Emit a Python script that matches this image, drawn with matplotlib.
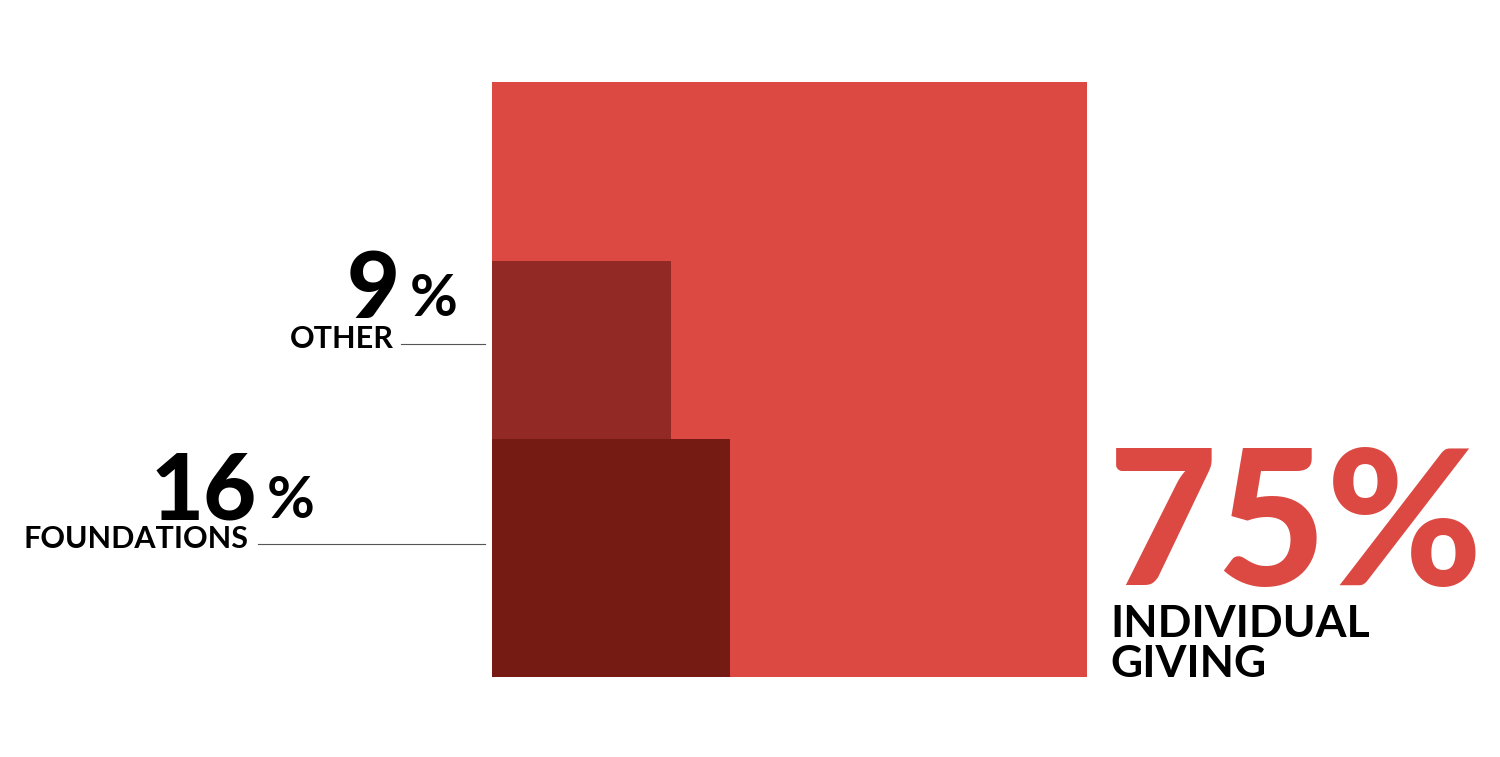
import numpy as np
import matplotlib.pyplot as plt
from matplotlib.patches import Rectangle

# shares of giving (percent)
labels = ['INDIVIDUAL\nGIVING', 'FOUNDATIONS', 'OTHER']
shares = [75, 16, 9]
colors = ['#DC4943', '#932924', '#761A14']

plt.rcParams['font.family'] = ['Lato', 'DejaVu Sans']

fig = plt.figure(figsize=(15, 7.57), dpi=100)
ax = fig.add_axes([0, 0, 1, 1])
ax.set_xlim(0, 1500)
ax.set_ylim(757, 0)
ax.axis('off')

# big square = whole (100%), smaller squares sized by area
x0, ybot, S = 492, 677, 595
total = sum(shares)
ax.add_patch(Rectangle((x0, ybot - S), S, S, color=colors[0], lw=0))
side_f = S * np.sqrt(shares[1] / total)
side_o = S * np.sqrt(shares[2] / total)
ax.add_patch(Rectangle((x0, ybot - side_f), side_f, side_f, color=colors[2], lw=0))
ax.add_patch(Rectangle((x0, ybot - side_f - side_o), side_o, side_o, color=colors[1], lw=0))

# left labels
def left_label(val, name, ynum, yname, xnum, xname, xline0):
    ax.text(xnum, ynum, str(val), ha='right', va='baseline', fontsize=66,
            fontweight='black', color='black')
    ax.text(xnum + 10, ynum - 2, '%', ha='left', va='baseline', fontsize=42,
            fontweight='bold', color='black')
    ax.text(xname, yname, name, ha='right', va='baseline', fontsize=22,
            fontweight='bold', color='black')
    ax.plot([xline0, 485], [yname - 4, yname - 4], color='#555555', lw=0.8)

left_label(shares[2], labels[2], 318, 348, 400, 394, 401)
left_label(shares[1], labels[1], 520, 548, 257, 249, 258)

# right label
ax.text(1108, 585, f'{shares[0]}%', ha='left', va='baseline', fontsize=136,
        fontweight='black', color=colors[0])
ax.text(1110, 677, labels[0], ha='left', va='baseline', fontsize=32,
        fontweight='bold', color='black', linespacing=1.0)

fig.savefig('out.png', dpi=100, facecolor='white')
